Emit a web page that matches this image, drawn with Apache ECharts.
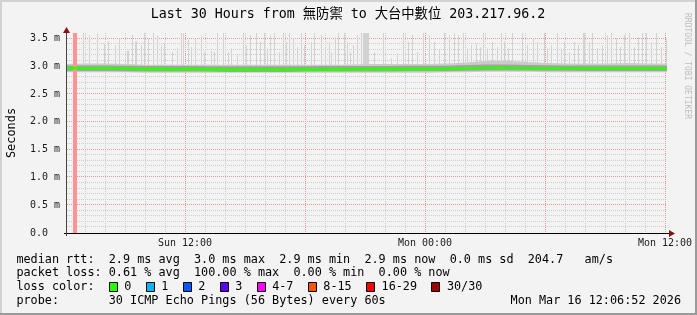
<!DOCTYPE html>
<html><head><meta charset="utf-8">
<script src="https://cdn.jsdelivr.net/npm/echarts@6/dist/echarts.min.js"></script>
<style>html,body{margin:0;padding:0;background:#f3f3f3}#c{width:697px;height:315px}</style>
</head><body><div id="c"></div>
<script>
// ---------------- data ----------------
const chartTitle = 'Last 30 Hours from 無防禦 to 大台中數位 203.217.96.2';
const yAxisTitle = 'Seconds';
const timeStart = 6.1;   // hours since Sun 00:00
const timeEnd = 36.1;
const xTickValues = [12, 24, 36];
const xTickLabels = ['Sun 12:00', 'Mon 00:00', 'Mon 12:00'];
const xMinorGrid = [7,8,9,10,11,13,14,15,16,17,19,20,21,22,23,25,26,27,28,29,31,32,33,34,35];
const xMajorGrid = [12, 18, 24, 30, 36];
const yMin = 0, yMax = 3.6;
const yTickValues = [0, 0.5, 1, 1.5, 2, 2.5, 3, 3.5];
const yTickLabels = ['0.0  ', '0.5 m', '1.0 m', '1.5 m', '2.0 m', '2.5 m', '3.0 m', '3.5 m'];
const yMinorGrid = [0.1,0.2,0.3,0.4,0.6,0.7,0.8,0.9,1.1,1.2,1.3,1.4,1.6,1.7,1.8,1.9,2.1,2.2,2.3,2.4,2.6,2.7,2.8,2.9,3.1,3.2,3.3,3.4];
const yMajorGrid = [0.5, 1, 1.5, 2, 2.5, 3, 3.5];

// median rtt (ms), every 30 minutes
const medianTimes = [6.1,6.6,7.1,7.6,8.1,8.6,9.1,9.6,10.1,10.6,11.1,11.6,12.1,12.6,13.1,13.6,14.1,14.6,15.1,15.6,16.1,16.6,17.1,17.6,18.1,18.6,19.1,19.6,20.1,20.6,21.1,21.6,22.1,22.6,23.1,23.6,24.1,24.6,25.1,25.6,26.1,26.6,27.1,27.6,28.1,28.6,29.1,29.6,30.1,30.6,31.1,31.6,32.1,32.6,33.1,33.6,34.1,34.6,35.1,35.6,36.1];
const medianValues = [2.965,2.97,2.96,2.965,2.97,2.96,2.96,2.955,2.95,2.955,2.95,2.945,2.955,2.95,2.945,2.95,2.945,2.94,2.95,2.945,2.945,2.94,2.945,2.945,2.95,2.94,2.945,2.95,2.945,2.95,2.95,2.955,2.95,2.955,2.95,2.955,2.955,2.95,2.96,2.955,2.965,2.965,2.97,2.975,2.97,2.97,2.965,2.965,2.96,2.965,2.965,2.96,2.96,2.96,2.965,2.96,2.96,2.96,2.965,2.96,2.96];

// smoke band (ms), hourly
const bandTimes = [6.1,7.1,8.1,9.1,10.1,11.1,12.1,13.1,14.1,15.1,16.1,17.1,18.1,19.1,20.1,21.1,22.1,23.1,24.1,25.1,26.1,27.1,28.1,29.1,30.1,31.1,32.1,33.1,34.1,35.1,36.1];
const bandLow  = [2.895,2.895,2.895,2.895,2.885,2.885,2.885,2.885,2.885,2.885,2.885,2.885,2.885,2.885,2.885,2.885,2.885,2.885,2.885,2.895,2.895,2.905,2.905,2.905,2.895,2.895,2.895,2.895,2.895,2.895,2.895];
const bandHigh = [3.04,3.05,3.05,3.04,3.03,3.03,3.03,3.03,3.03,3.03,3.03,3.03,3.03,3.03,3.03,3.04,3.04,3.04,3.04,3.05,3.07,3.1,3.1,3.08,3.06,3.05,3.05,3.05,3.06,3.05,3.05];
const coreLow  = [2.915,2.915,2.915,2.91,2.905,2.905,2.905,2.905,2.9,2.9,2.9,2.9,2.905,2.905,2.905,2.905,2.905,2.91,2.91,2.91,2.92,2.925,2.925,2.925,2.92,2.92,2.915,2.915,2.915,2.915,2.915];
const coreHigh = [3.015,3.015,3.015,3.01,3.005,3.005,3.005,3.0,3.0,3.0,3.0,3.0,3.0,3.005,3.005,3.005,3.005,3.01,3.01,3.01,3.025,3.035,3.035,3.025,3.02,3.015,3.015,3.015,3.015,3.015,3.015];

// smoke spikes: [time (h), top (ms), optional duration (h)]
const spikeBase = 2.95;
const spikes = [
 [6.9,3.7],[7.2,3.56],[7.58,3.7],[7.95,3.4],[8.17,3.45],[8.48,3.38],[8.7,3.5],[9.08,3.28,0.1],[9.37,3.56],[9.48,3.45,0.1],
 [9.82,3.38],[9.95,3.7],[10.17,3.5],[10.42,3.7],[10.62,3.55],[10.78,3.38],[10.95,3.42],[11.33,3.26],[11.58,3.32],[11.78,3.65],
 [11.9,3.6],[12.15,3.48],[12.28,3.35],[12.52,3.5],[12.82,3.55],[12.95,3.26],[13.28,3.28],[13.45,3.26],
 [13.58,3.6],[13.92,3.7],[14.15,3.26],[14.28,3.32],[14.62,3.2],[14.92,3.7],[15.03,3.38],[15.25,3.56],[15.57,3.7],[15.73,3.44],
 [15.95,3.6],[16.12,3.32],[16.25,3.56],[16.45,3.6],[16.7,3.26],[16.9,3.7],[17.03,3.44],[17.2,3.7],[17.4,3.5],[17.62,3.35],
 [17.82,3.6],[17.95,3.38],[18.28,3.44],[18.45,3.6],[18.78,3.56],[18.98,3.32],[19.2,3.44],[19.32,3.26],[19.48,3.53],[19.65,3.7],
 [19.95,3.6],[20.08,3.44],[20.25,3.26],[20.42,3.38],[20.58,3.56],[20.78,3.6],
 [20.9,3.7,0.3],[21.45,3.26],[21.92,3.7],[22.28,3.14],[22.62,3.24],[22.92,3.7],[23.15,3.44],[23.37,3.56],[23.62,3.26],[23.92,3.7],
 [24.2,3.56],[24.45,3.44],[24.7,3.29],[24.95,3.7],[25.2,3.56],[25.45,3.6],[25.67,3.56],[25.92,3.7],[26.12,3.32],[26.32,3.38],
 [26.53,3.41],[26.75,3.35],[26.92,3.7],[27.12,3.32],[27.37,3.44],[27.58,3.35],[27.78,3.7],[27.95,3.44],[28.15,3.32],[28.37,3.7],
 [28.87,3.7],[29.12,3.38],[29.42,3.5],[29.62,3.44],[29.95,3.7],[30.12,3.32],[30.28,3.38],[30.62,3.7],[30.78,3.32],[30.95,3.44],
 [31.2,3.26],[31.45,3.44],[31.65,3.38],[31.92,3.7,0.1],[32.2,3.44],[32.37,3.7],[32.62,3.32],[32.87,3.38],[33.12,3.56],[33.32,3.7],
 [33.53,3.5],[33.75,3.35],[33.95,3.56],[34.2,3.7],[34.45,3.35],[34.65,3.53],[34.87,3.7],[35.03,3.7],[35.28,3.44],[35.53,3.7],
 [35.78,3.35],[36.03,3.5]
];

// periods with 100% packet loss: [start, end] (h)
const lossPeriods = [[6.4, 6.6]];

// legend / stats texts
const statsLines = [
  'median rtt:  2.9 ms avg  3.0 ms max  2.9 ms min  2.9 ms now  0.0 ms sd  204.7   am/s',
  'packet loss: 0.61 % avg  100.00 % max  0.00 % min  0.00 % now',
  'loss color:',
  'probe:       30 ICMP Echo Pings (56 Bytes) every 60s'
];
const lossLabels = ['0', '1', '2', '3', '4-7', '8-15', '16-29', '30/30'];
const lossColors = ['#26ff00', '#00b8ff', '#0059ff', '#5e00ff', '#ff00ff', '#ff5500', '#ff0000', '#a00000'];
const dateText = 'Mon Mar 16 12:06:52 2026';
const watermark = 'RRDTOOL / TOBI OETIKER';

// ---------------- chart ----------------
const MONO = '"DejaVu Sans Mono", "Noto Sans CJK TC", monospace';
const chart = echarts.init(document.getElementById('c'), null, {renderer: 'canvas'});
const G = {left: 67, top: 33, width: 600, height: 200, containLabel: false, outerBoundsMode: 'none'};

function gridLineSeries(values, vertical, color, dash, z) {
  return {
    type: 'custom', z: z, silent: true, animation: false,
    data: values.map(v => vertical ? [v, yMin] : [timeStart, v]),
    renderItem: function (params, api) {
      const cs = params.coordSys;
      const p = api.coord([api.value(0), api.value(1)]);
      if (vertical) {
        const x = Math.round(p[0]) + 0.5;
        return {type: 'line', shape: {x1: x, y1: cs.y, x2: x, y2: cs.y + cs.height},
          style: {stroke: color, lineWidth: 1, lineDash: dash}};
      } else {
        const y = Math.round(p[1]) - 0.5;
        return {type: 'line', shape: {x1: cs.x, y1: y, x2: cs.x + cs.width, y2: y},
          style: {stroke: color, lineWidth: 1, lineDash: dash}};
      }
    }
  };
}

function bandSeries(low, high, color, z) {
  return {
    type: 'custom', z: z, silent: true, animation: false,
    data: [[bandTimes[0], low[0]]],
    renderItem: function (params, api) {
      const pts = [];
      bandTimes.forEach((t, i) => pts.push(api.coord([t, high[i]])));
      for (let i = bandTimes.length - 1; i >= 0; i--) pts.push(api.coord([bandTimes[i], low[i]]));
      return {type: 'polygon', shape: {points: pts}, style: {fill: color}};
    }
  };
}

const series = [
  gridLineSeries(xMinorGrid, true, '#cdcdcd', [1, 1], 1),
  gridLineSeries(yMinorGrid, false, '#cdcdcd', [1, 1], 1),
  gridLineSeries(xMajorGrid, true, '#eb9a9a', [1, 1], 2),
  gridLineSeries(yMajorGrid, false, '#eb9a9a', [1, 1], 2),
  {
    type: 'custom', z: 3, silent: true, animation: false,
    dimensions: ['t', 'top', 'dur'],
    encode: {x: 0, y: 1},
    data: spikes.map(s => [s[0], s[1], s[2] || 0.05]),
    renderItem: function (params, api) {
      const cs = params.coordSys;
      const t = api.value(0), top = api.value(1), dur = api.value(2);
      const p0 = api.coord([t, spikeBase]);
      const p1 = api.coord([t + dur, top]);
      const y1 = Math.max(p1[1], cs.y);
      const x0 = Math.round(p0[0]);
      return {type: 'rect', shape: {x: x0, y: y1, width: Math.max(1, Math.round(p1[0] - p0[0])), height: p0[1] - y1},
        style: {fill: '#d2d2d2'}};
    }
  },
  bandSeries(bandLow, bandHigh, '#cbcbcb', 4),
  bandSeries(coreLow, coreHigh, '#a2a2a2', 5),
  {
    type: 'custom', z: 6, silent: true, animation: false,
    data: lossPeriods.map(p => [p[0], p[1]]),
    renderItem: function (params, api) {
      const cs = params.coordSys;
      const a = api.coord([api.value(0), yMin]);
      const b = api.coord([api.value(1), yMin]);
      return {type: 'rect', shape: {x: Math.round(a[0]), y: cs.y, width: Math.round(b[0] - a[0]), height: cs.height},
        style: {fill: '#ff9494'}};
    }
  },
  {type: 'line', z: 7, symbol: 'none', silent: true, animation: false,
   lineStyle: {width: 2.6, color: '#2bff00'},
   data: medianTimes.map((t, i) => [t, medianValues[i]])}
];

// decorations: frame, axes, arrows, legend
const graphic = [];
graphic.push({type: 'rect', shape: {x: 0, y: 0, width: 697, height: 2}, style: {fill: '#d2d2d2'}, z: 100});
graphic.push({type: 'rect', shape: {x: 0, y: 0, width: 2, height: 315}, style: {fill: '#d2d2d2'}, z: 100});
graphic.push({type: 'rect', shape: {x: 695, y: 0, width: 2, height: 315}, style: {fill: '#9a9a9a'}, z: 100});
graphic.push({type: 'rect', shape: {x: 0, y: 313, width: 697, height: 2}, style: {fill: '#9a9a9a'}, z: 100});
// axes
graphic.push({type: 'line', shape: {x1: 64, y1: 233.5, x2: 670, y2: 233.5}, style: {stroke: '#000', lineWidth: 1}, z: 50});
graphic.push({type: 'line', shape: {x1: 66.5, y1: 236, x2: 66.5, y2: 31}, style: {stroke: '#444', lineWidth: 1}, z: 50});
graphic.push({type: 'polygon', shape: {points: [[669, 230], [675, 233.5], [669, 237]]}, style: {fill: '#8b1010'}, z: 51});
graphic.push({type: 'polygon', shape: {points: [[63, 33], [66.5, 27], [70, 33]]}, style: {fill: '#8b1010'}, z: 51});
// title
graphic.push({type: 'text', x: 348, y: 15, style: {text: chartTitle, font: '13.3px ' + MONO, fill: '#000', align: 'center', verticalAlign: 'middle'}, z: 60});
// watermark
graphic.push({type: 'text', x: 687, y: 66, rotation: -Math.PI / 2,
  style: {text: watermark, font: '8px ' + MONO, fill: '#bdbdbd', align: 'center', verticalAlign: 'middle'}, z: 60});
// stats lines
const FS = 11.8, CW = FS * 0.602, TX = 16.4;
const lineY = [259.5, 273, 287, 300.5];
statsLines.forEach((s, i) => {
  graphic.push({type: 'text', x: TX, y: lineY[i], style: {text: s, font: FS + 'px ' + MONO, fill: '#000', align: 'left', verticalAlign: 'middle'}, z: 60});
});
graphic.push({type: 'text', x: 681, y: lineY[3], style: {text: dateText, font: FS + 'px ' + MONO, fill: '#000', align: 'right', verticalAlign: 'middle'}, z: 60});
let col = 13;
lossLabels.forEach((lab, i) => {
  const bx = Math.round(TX + col * CW);
  graphic.push({type: 'rect', shape: {x: bx + 0.5, y: lineY[2] - 4.5, width: 8, height: 9},
    style: {fill: lossColors[i], stroke: '#000', lineWidth: 1}, z: 60});
  graphic.push({type: 'text', x: TX + (col + 2.2) * CW, y: lineY[2],
    style: {text: lab, font: FS + 'px ' + MONO, fill: '#000', align: 'left', verticalAlign: 'middle'}, z: 60});
  col += 2.2 + lab.length + 2;
});

chart.setOption({
  animation: false,
  backgroundColor: '#f3f3f3',
  grid: G,
  xAxis: {
    type: 'value', min: timeStart, max: timeEnd,
    axisLine: {show: false}, axisTick: {show: false}, splitLine: {show: false},
    axisLabel: {
      customValues: xTickValues, margin: 5,
      formatter: v => { const i = xTickValues.findIndex(x => Math.abs(x - v) < 1e-6); return i >= 0 ? xTickLabels[i] : ''; },
      fontFamily: MONO, fontSize: 10, color: '#1a1a1a', hideOverlap: false, showMaxLabel: true, showMinLabel: true
    }
  },
  yAxis: {
    type: 'value', min: yMin, max: yMax,
    name: yAxisTitle, nameLocation: 'middle', nameGap: 49, nameRotate: 90,
    nameTextStyle: {fontFamily: MONO, fontSize: 11.9, color: '#000'},
    axisLine: {show: false}, axisTick: {show: false}, splitLine: {show: false},
    axisLabel: {
      customValues: yTickValues, margin: 7,
      formatter: v => { const i = yTickValues.findIndex(x => Math.abs(x - v) < 1e-6); return i >= 0 ? yTickLabels[i] : ''; },
      fontFamily: MONO, fontSize: 10, color: '#1a1a1a'
    }
  },
  graphic: graphic,
  series: series
});
</script></body></html>
